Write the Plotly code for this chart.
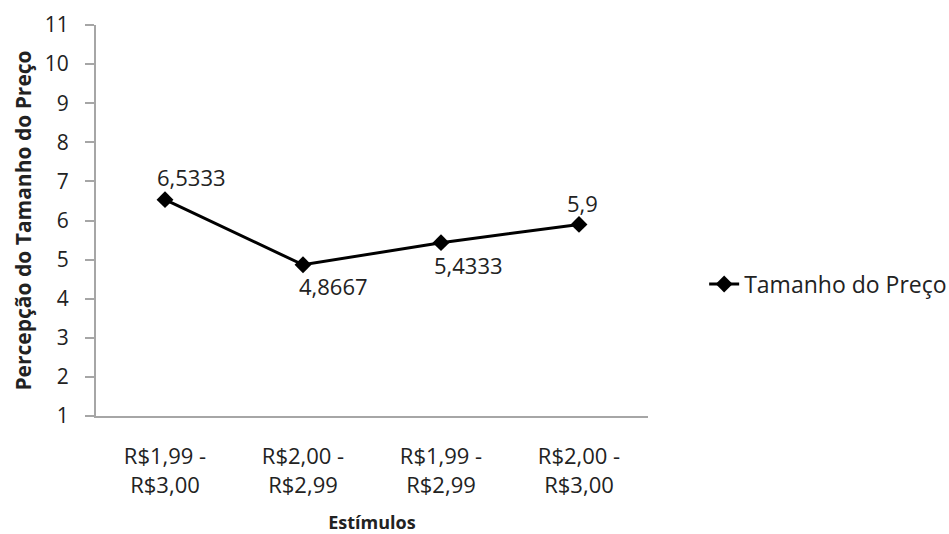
import plotly.graph_objects as go

# Price-pair stimuli and mean perceived price size
stimulos = ["R$1,99 -<br>R$3,00", "R$2,00 -<br>R$2,99", "R$1,99 -<br>R$2,99", "R$2,00 -<br>R$3,00"]
tamanho_preco = [6.5333, 4.8667, 5.4333, 5.9]
y_ticks = list(range(1, 12))

# Offsets (px) of each value label from its marker
label_dx = [26, 30, 27, 3]
label_dy = [23, -21, -22, 21]

FONT = "Open Sans"
TEXT = "#222222"
AXIS_GRAY = "#a6a6a6"


def fmt(v):
    # Portuguese decimal comma, up to four decimals, trailing zeros dropped
    return f"{v:.4f}".rstrip("0").rstrip(".").replace(".", ",")


fig = go.Figure()
fig.add_trace(go.Scatter(
    x=stimulos,
    y=tamanho_preco,
    mode="lines+markers",
    name="Tamanho do Preço",
    line=dict(color="black", width=3),
    marker=dict(symbol="diamond", size=13, color="black"),
    cliponaxis=False,
))

for cat, val, dx, dy in zip(stimulos, tamanho_preco, label_dx, label_dy):
    fig.add_annotation(
        x=cat, y=val, text=fmt(val), showarrow=False,
        xshift=dx, yshift=dy,
        font=dict(family=FONT, size=22, color=TEXT),
    )

fig.update_layout(
    width=949,
    height=534,
    paper_bgcolor="white",
    plot_bgcolor="white",
    margin=dict(l=96, r=301, t=25, b=118, autoexpand=False),
    font=dict(family=FONT, size=21, color=TEXT),
    showlegend=True,
    legend=dict(
        xref="container", yref="container",
        x=0.742, y=0.468, xanchor="left", yanchor="middle",
        font=dict(family=FONT, size=23, color=TEXT),
        bgcolor="rgba(0,0,0,0)",
    ),
    xaxis=dict(
        type="category",
        range=[-0.5, 3.5],
        showgrid=False,
        showline=True,
        linecolor=AXIS_GRAY,
        linewidth=2,
        ticks="",
        ticklabelstandoff=20,
        tickfont=dict(family=FONT, size=22, color=TEXT),
        title=dict(text="<b>Estímulos</b>", font=dict(family=FONT, size=18, color=TEXT), standoff=22),
    ),
    yaxis=dict(
        range=[1, 11],
        tickvals=y_ticks,
        showgrid=False,
        showline=True,
        linecolor=AXIS_GRAY,
        linewidth=2,
        ticks="outside",
        ticklen=9,
        tickcolor=AXIS_GRAY,
        tickwidth=2,
        ticklabelstandoff=12,
        tickfont=dict(family=FONT, size=21, color=TEXT),
        zeroline=False,
        title=dict(text="<b>Percepção do Tamanho do Preço</b>", font=dict(family=FONT, size=21, color=TEXT), standoff=7),
    ),
)

fig.write_html("out.html")
